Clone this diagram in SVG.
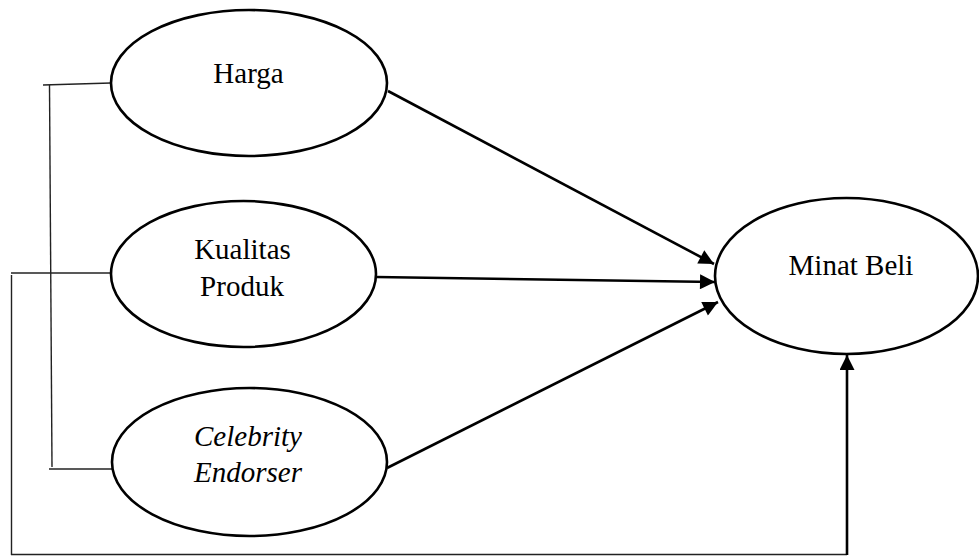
<svg xmlns="http://www.w3.org/2000/svg" width="979" height="556" viewBox="0 0 979 556">
<style>
.node ellipse{fill:#fff;stroke:#000;stroke-width:2.6}
.lbl{font-family:"Liberation Serif","Times New Roman",serif;font-size:29px;fill:#000;text-anchor:middle}
.it{font-style:italic}
.thin{stroke:#222;stroke-width:1.4;fill:none}
.arr{stroke:#000;stroke-width:2.6;fill:none;marker-end:url(#ah)}
</style>
<defs>
<marker id="ah" viewBox="0 0 10 10" refX="10" refY="5" markerUnits="userSpaceOnUse" markerWidth="17" markerHeight="15" orient="auto">
<path d="M0,0 L10,5 L0,10 z" fill="#000"/>
</marker>
</defs>
<rect width="979" height="556" fill="#fff"/>
<g id="connectors">
<polyline class="thin" points="43,85 111,83"/>
<polyline class="thin" points="49.5,85 52,467"/>
<polyline class="thin" points="49,469 115,469"/>
<polyline class="thin" points="11,273 110,273"/>
<polyline class="thin" points="11.5,275 11.5,555"/>
<polyline class="thin" points="11,554.5 847,554.5"/>
<line class="arr" x1="388" y1="91" x2="714" y2="264"/>
<line class="arr" x1="376" y1="277" x2="715" y2="282"/>
<line class="arr" x1="387" y1="468" x2="718" y2="302"/>
<line class="arr" x1="847" y1="555" x2="847" y2="355"/>
</g>
<g id="harga" class="node">
<ellipse cx="249" cy="83" rx="138" ry="73"/>
<text class="lbl" x="248.5" y="83">Harga</text>
</g>
<g id="kualitas" class="node">
<ellipse cx="243.5" cy="274" rx="132.5" ry="73"/>
<text class="lbl" x="242.5" y="259">Kualitas</text>
<text class="lbl" x="242" y="296">Produk</text>
</g>
<g id="celebrity" class="node">
<ellipse cx="249.5" cy="462" rx="137.5" ry="74"/>
<text class="lbl it" x="248" y="446">Celebrity</text>
<text class="lbl it" x="248" y="482">Endorser</text>
</g>
<g id="minat" class="node">
<ellipse cx="846.5" cy="276" rx="131.5" ry="78"/>
<text class="lbl" x="851" y="275">Minat Beli</text>
</g>
</svg>
